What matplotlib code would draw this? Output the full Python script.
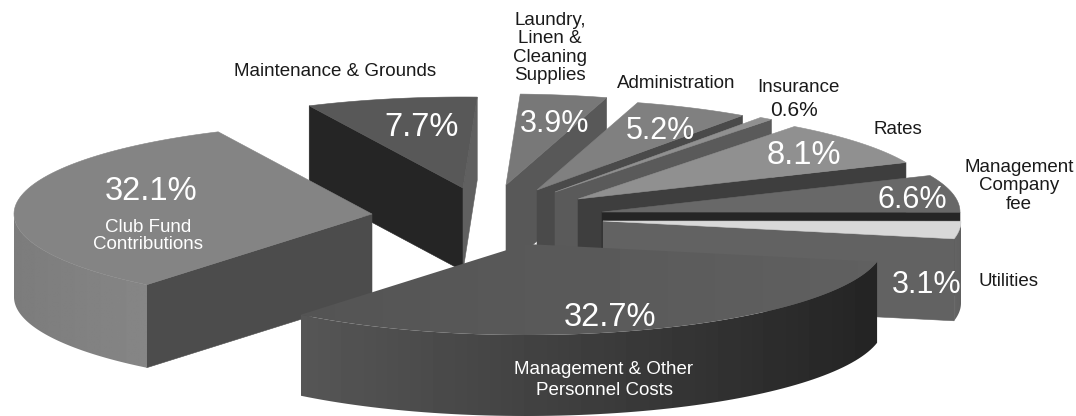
import numpy as np
import matplotlib
matplotlib.use('Agg')
import matplotlib.pyplot as plt
from matplotlib.patches import Polygon

plt.rcParams['font.family'] = ['Liberation Sans', 'DejaVu Sans']

# Share of expenditure, clockwise from the front-left cut of the pie
categories = ['Club Fund\nContributions', 'Maintenance & Grounds',
              'Laundry,\nLinen &\nCleaning\nSupplies', 'Administration',
              'Insurance', 'Rates', 'Management\nCompany\nfee', 'Utilities',
              'Management & Other\nPersonnel Costs']
values = [32.1, 7.7, 3.9, 5.2, 0.6, 8.1, 6.6, 3.1, 32.7]

# Pie geometry in pixels
start_angle = 231.0
rx, ry = 358.0, 91.0
depth = [83, 83, 83, 83, 83, 83, 83, 82, 81]
apex = [(372, 214), (463, 188), (506, 185), (537, 190), (555, 192),
        (578, 199), (602, 212), (603, 221), (526, 244)]

# Grey levels
top_grey = [0x84, 0x58, 0x78, 0x80, 0x90, 0x90, 0x68, 0xd8, 0x58]
cut_grey = [0x4c, 0x25, 0x58, 0x4a, 0x5a, 0x3e, 0x25, 0x62, 0x40]
side_grey = {0: (0x7c, 0x86), 7: (0x64, 0x60), 8: (0x56, 0x24)}

# Maintenance shows a second, lighter cut on its right
far_cut_grey = {1: 0x60}

# Back to front
draw_order = [1, 2, 3, 4, 5, 6, 7, 0, 8]

# Text positions and sizes
pct_pos = [(151, 191), (422, 128), (555, 124), (661, 131), (794, 111),
           (804, 156), (912, 200), (927, 285), (610, 317)]
pct_size = [23.5, 23.5, 22, 22, 15, 23.5, 22, 22, 23.5]
label_pos = [(148, 236), (335, 71), (550, 48), (676, 83), (798, 87),
             (898, 130), (1019, 186), (1008, 282), (604, 380)]
label_spacing = [1.06, 1.06, 1.12, 1.06, 1.06, 1.06, 1.12, 1.06, 1.24]

fig = plt.figure(figsize=(10.76, 4.16), dpi=100, facecolor='white')
ax = fig.add_axes([0, 0, 1, 1])


def grey(level):
    return '#%02x%02x%02x' % (level, level, level)


def rim(cx, cy, a0, a1, n=80):
    t = np.radians(np.linspace(a0, a1, n))
    return np.column_stack([cx + rx * np.cos(t), cy - ry * np.sin(t)])


def fill_poly(pts, level, z):
    ax.add_patch(Polygon(pts, closed=True, facecolor=grey(level),
                         edgecolor=grey(level), linewidth=0.4, zorder=z))


def gradient_poly(pts, levels, z):
    x0, x1 = pts[:, 0].min(), pts[:, 0].max()
    y0, y1 = pts[:, 1].min(), pts[:, 1].max()
    poly = Polygon(pts, closed=True, facecolor='none', edgecolor='none')
    ax.add_patch(poly)
    ramp = np.linspace(levels[0], levels[1], 128).reshape(1, -1)
    im = ax.imshow(ramp, cmap='gray', vmin=0, vmax=255, aspect='auto',
                   extent=[x0, x1, y1, y0], zorder=z, interpolation='bilinear')
    im.set_clip_path(poly)


# Slice angles come straight from the values
sweep = np.array(values) / sum(values) * 360
a_start = start_angle - np.concatenate([[0], np.cumsum(sweep)[:-1]])
a_end = a_start - sweep

z = 2
for i in draw_order:
    cx, cy = apex[i]
    a0, a1 = a_start[i], a_end[i]
    arc = rim(cx, cy, a0, a1)
    down = np.array([0, depth[i]])
    base = [cx, cy + depth[i]]

    # cut faces that point towards the viewer
    if np.cos(np.radians(a0)) < 0:
        c = arc[0]
        fill_poly(np.array([[cx, cy], c, c + down, base]), cut_grey[i], z)
        z += 1
    if np.cos(np.radians(a1)) > 0:
        c = arc[-1]
        fill_poly(np.array([[cx, cy], c, c + down, base]),
                  far_cut_grey.get(i, cut_grey[i]), z)
        z += 1

    # outer wall, front half of the rim only
    if i in side_grey:
        hi = a0 % 360
        lo = hi - sweep[i]
        edge = rim(cx, cy, min(hi, 360), max(lo, 180))
        wall = np.vstack([edge, (edge + down)[::-1]])
        gradient_poly(wall, side_grey[i], z)
        z += 1

    # top face
    top = np.vstack([[[cx, cy]], arc])
    if i == 8:
        gradient_poly(top, (0x54, 0x60), z)
    else:
        fill_poly(top, top_grey[i], z)
    z += 1

# Percentages and category names
for i, v in enumerate(values):
    colour = '#1a1a1a' if i == 4 else 'white'
    ax.text(pct_pos[i][0], pct_pos[i][1], f'{v}%', color=colour, fontsize=pct_size[i],
            ha='center', va='center', zorder=100)
    colour = 'white' if i in (0, 8) else '#1a1a1a'
    ax.text(label_pos[i][0], label_pos[i][1], categories[i], color=colour, fontsize=13.5,
            ha='center', va='center', linespacing=label_spacing[i], zorder=100)

ax.set_xlim(0, 1076)
ax.set_ylim(416, 0)
ax.axis('off')
fig.savefig('out.png', dpi=100, facecolor='white')
